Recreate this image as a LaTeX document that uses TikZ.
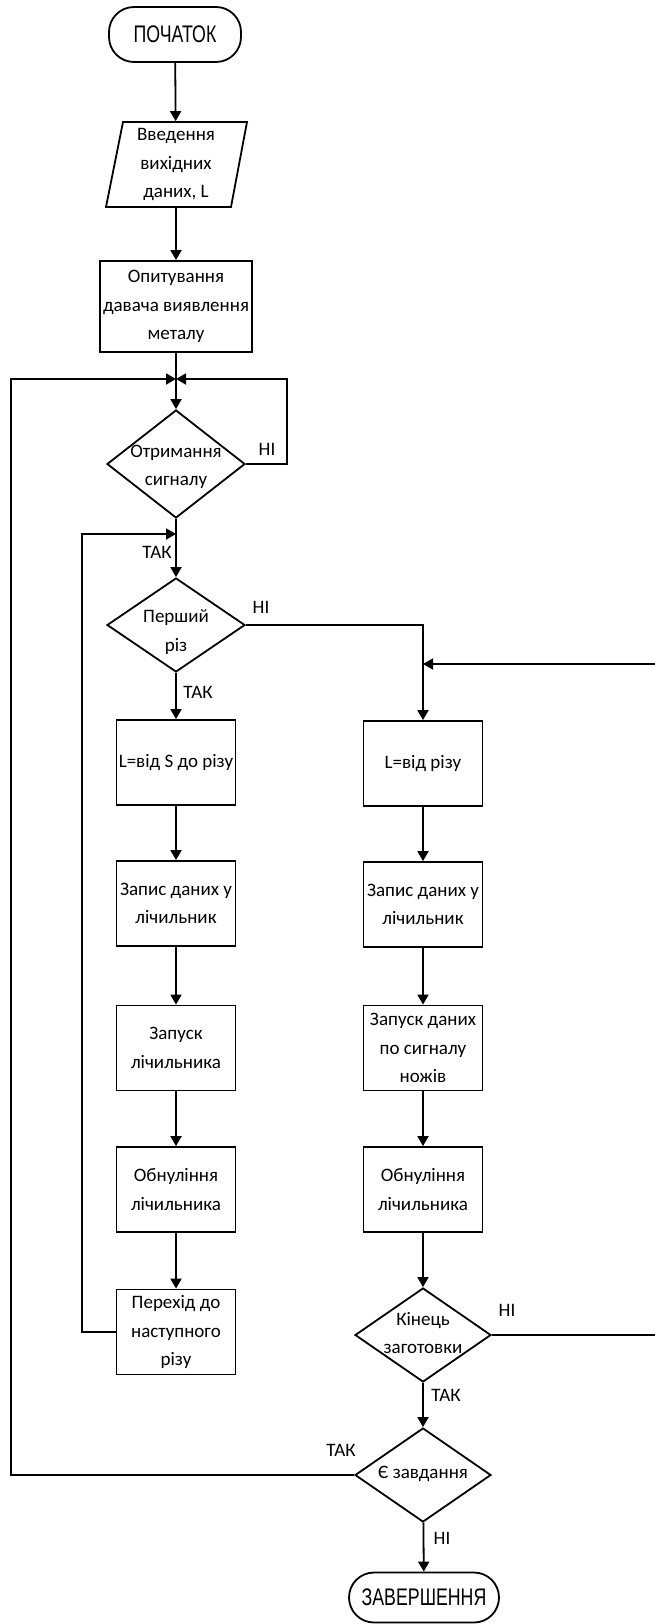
\documentclass[tikz,border=0pt]{standalone}
\usepackage{fontspec}
\setmainfont{Carlito}
\newfontfamily\narrowfont[FakeStretch=0.74]{Liberation Sans}
\usetikzlibrary{arrows.meta,shapes.geometric}
\begin{document}
\begin{tikzpicture}[x=1pt,y=-1pt,
  line width=1.8pt,
  every node/.style={font=\fontsize{19}{28.5}\selectfont},
  box/.style={draw, rectangle, minimum width=119pt, minimum height=85pt, inner sep=0pt, align=center},
  term/.style={draw, rectangle, rounded corners=25pt, inner sep=0pt, font=\narrowfont\fontsize{24}{28}\selectfont},
  dec/.style={draw, diamond, inner sep=0pt},
  dtext/.style={align=center, inner sep=0pt},
  lbl/.style={inner sep=0pt},
  arr/.style={-{Triangle[length=10pt,width=11pt]}}
]
\useasboundingbox (0,0) rectangle (654,1624);

% top part
\node[term, minimum width=132pt, minimum height=55pt] (start) at (175,34.5) {ПОЧАТОК};
\node[minimum width=100pt, minimum height=85pt, inner sep=0pt, align=center] (inp) at (176,164.5) {Введення\\вихідних\\даних, L};
\draw (123,122) -- (247,122) -- (231,207) -- (106,207) -- cycle;
\node[draw, rectangle, minimum width=152pt, minimum height=91pt, inner sep=0pt, align=center] (poll) at (176,306.5) {Опитування\\давача виявлення\\металу};

\coordinate (j1) at (176,379);
\coordinate (r1) at (287,379);
\coordinate (l1) at (11,379);

\node[dec, minimum width=138pt, minimum height=108pt] (d1) at (176,464) {};
\node[dtext] at (176,467) {Отримання\\сигналу};

\coordinate (j2) at (176,534);
\coordinate (l2) at (82,534);

\node[dec, minimum width=138pt, minimum height=94pt] (d2) at (176,625) {};
\node[dtext] at (176,632) {Перший\\різ};

% left column
\node[box] (b1) at (176,762.5) {L=від S до різу};
\node[box] (b2) at (176,903.5) {Запис даних у\\лічильник};
\node[box] (b3) at (176,1048) {Запуск\\лічильника};
\node[box] (b4) at (176,1189.5) {Обнуління\\лічильника};
\node[box] (b5) at (176,1332) {Перехід до\\наступного\\різу};

% right column
\coordinate (j3) at (423,664);
\coordinate (r2) at (672,664);
\node[box] (c1) at (423,763.5) {L=від різу};
\node[box] (c2) at (423,904.5) {Запис даних у\\лічильник};
\node[box] (c3) at (423,1048) {Запуск даних\\по сигналу\\ножів};
\node[box] (c4) at (423,1189.5) {Обнуління\\лічильника};
\node[dec, minimum width=136pt, minimum height=94pt] (d3) at (423,1335) {};
\node[dtext] at (423,1333) {Кінець\\заготовки};
\node[dec, minimum width=136pt, minimum height=94pt] (d4) at (423,1475) {};
\node[dtext] at (423,1474) {Є завдання};
\node[term, minimum width=150pt, minimum height=50pt] (end) at (424,1597.5) {ЗАВЕРШЕННЯ};

% connectors
\draw[arr] (start) -- (inp);
\draw[arr] (inp) -- (poll);
\draw (poll) -- (j1);
\draw[arr] (j1) -- (d1);
\draw[arr] (d1.east) -| (r1) -- (j1);
\draw[arr] (d4.west) -| (l1) -- (j1);
\draw (d1.south) -- (j2);
\draw[arr] (j2) -- (d2);
\draw[arr] (b5.west) -| (l2) -- (j2);
\draw[arr] (d2.south) -- (b1);
\draw[arr] (b1) -- (b2);
\draw[arr] (b2) -- (b3);
\draw[arr] (b3) -- (b4);
\draw[arr] (b4) -- (b5);
\draw[arr] (d2.east) -| (c1.north);
\draw[arr] (d3.east) -| (r2) -- (j3);
\draw[arr] (c1) -- (c2);
\draw[arr] (c2) -- (c3);
\draw[arr] (c3) -- (c4);
\draw[arr] (c4) -- (d3);
\draw[arr] (d3) -- (d4);
\draw[arr] (d4) -- (end);

% labels
\node[lbl] at (267,449) {НІ};
\node[lbl] at (157,552) {ТАК};
\node[lbl] at (261,607) {НІ};
\node[lbl] at (198,692) {ТАК};
\node[lbl] at (507,1310) {НІ};
\node[lbl] at (446,1395) {ТАК};
\node[lbl] at (341,1450) {ТАК};
\node[lbl] at (442,1538) {НІ};
\end{tikzpicture}
\end{document}
